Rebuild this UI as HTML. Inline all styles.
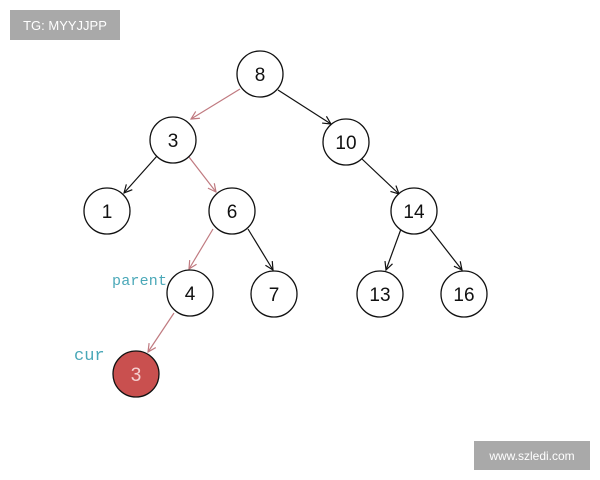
<!DOCTYPE html>
<html><head><meta charset="utf-8"><style>
html,body{margin:0;padding:0;background:#fff;width:600px;height:480px;overflow:hidden}
</style></head><body>
<svg width="600" height="480" viewBox="0 0 600 480" xmlns="http://www.w3.org/2000/svg" font-family="Liberation Sans, sans-serif">
<defs>
<marker id="ab" markerWidth="10" markerHeight="10" refX="9" refY="5" orient="auto" markerUnits="userSpaceOnUse"><path d="M1,1 L9,5 L1,9" fill="none" stroke="#111" stroke-width="1.2"/></marker>
<marker id="ar" markerWidth="10" markerHeight="10" refX="9" refY="5" orient="auto" markerUnits="userSpaceOnUse"><path d="M1,1 L9,5 L1,9" fill="none" stroke="#c07a80" stroke-width="1.2"/></marker>
</defs>
<rect x="10" y="10" width="110" height="30" fill="#a9a9a9"/>
<text x="65" y="30" text-anchor="middle" font-size="13" fill="#fff">TG: MYYJJPP</text>
<rect x="474" y="441" width="116" height="29" fill="#a9a9a9"/>
<text x="532" y="460" text-anchor="middle" font-size="12" fill="#fff">www.szledi.com</text>
<g stroke-width="1.2" fill="none">
<line x1="240" y1="89" x2="191" y2="119" stroke="#c07a80" marker-end="url(#ar)"/>
<line x1="278" y1="90" x2="331" y2="124" stroke="#111" marker-end="url(#ab)"/>
<line x1="157" y1="156" x2="124" y2="193" stroke="#111" marker-end="url(#ab)"/>
<line x1="189" y1="157" x2="216" y2="192" stroke="#c07a80" marker-end="url(#ar)"/>
<line x1="362" y1="159" x2="399" y2="194" stroke="#111" marker-end="url(#ab)"/>
<line x1="213" y1="229" x2="189" y2="269" stroke="#c07a80" marker-end="url(#ar)"/>
<line x1="248" y1="229" x2="273" y2="270" stroke="#111" marker-end="url(#ab)"/>
<line x1="401" y1="229" x2="386" y2="270" stroke="#111" marker-end="url(#ab)"/>
<line x1="430" y1="229" x2="462" y2="270" stroke="#111" marker-end="url(#ab)"/>
<line x1="174" y1="313" x2="148" y2="352" stroke="#c07a80" marker-end="url(#ar)"/>
</g>
<g fill="#fff" stroke="#111" stroke-width="1.3">
<circle cx="260" cy="74" r="23"/>
<circle cx="173" cy="140" r="23"/>
<circle cx="346" cy="142" r="23"/>
<circle cx="107" cy="211" r="23"/>
<circle cx="232" cy="211" r="23"/>
<circle cx="414" cy="211" r="23"/>
<circle cx="190" cy="293" r="23"/>
<circle cx="274" cy="294" r="23"/>
<circle cx="380" cy="294" r="23"/>
<circle cx="464" cy="294" r="23"/>
<circle cx="136" cy="374" r="23" fill="#c9504f"/>
</g>
<g font-size="19" text-anchor="middle" fill="#111">
<text x="260" y="81">8</text>
<text x="173" y="147">3</text>
<text x="346" y="149">10</text>
<text x="107" y="218">1</text>
<text x="232" y="218">6</text>
<text x="414" y="218">14</text>
<text x="190" y="300">4</text>
<text x="274" y="301">7</text>
<text x="380" y="301">13</text>
<text x="464" y="301">16</text>
<text x="136" y="381" fill="#f5d0d0">3</text>
</g>
<text x="112" y="285" font-family="Liberation Mono, monospace" font-size="15" fill="#4aa8b8" textLength="55">parent</text>
<text x="74" y="360" font-family="Liberation Mono, monospace" font-size="17" fill="#4aa8b8">cur</text>
</svg>
</body></html>
